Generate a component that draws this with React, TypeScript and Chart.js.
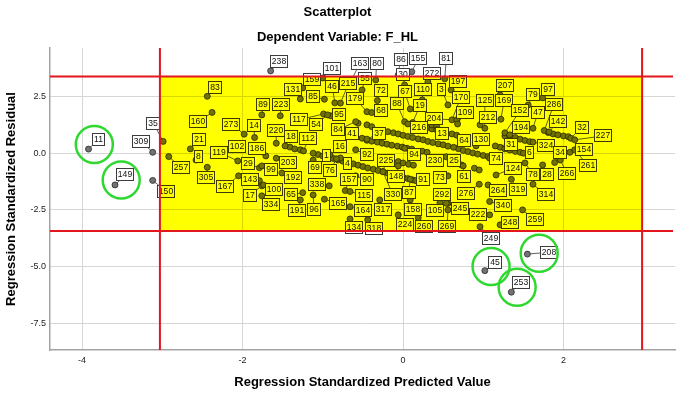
import React, { useEffect, useRef } from 'react';
import { Chart, registerables } from 'chart.js';

Chart.register(...registerables);

// Labelled cases (case number, predicted value, residual) and where each case label sits
const caseIds = [
  11, 149, 309, 35, 150, 83, 160, 273, 21, 8, 257, 119, 305, 167, 102, 14, 186, 29, 143, 17,
  89, 223, 220, 99, 238, 101, 163, 80, 86, 155, 81, 30, 272, 159, 55, 197, 131, 46, 215, 72,
  67, 110, 3, 85, 179, 88, 19, 170, 95, 68, 204, 117, 54, 216, 84, 41, 37, 13, 18, 112,
  16, 1, 92, 94, 230, 25, 203, 4, 225, 69, 76, 192, 148, 91, 73, 338, 157, 90, 100, 65,
  115, 330, 87, 292, 165, 334, 191, 96, 164, 317, 158, 105, 134, 318, 224, 260, 269, 245, 207, 79,
  97, 125, 169, 286, 152, 47, 109, 212, 142, 194, 32, 227, 64, 130, 31, 324, 154, 6, 34, 74,
  261, 124, 78, 28, 266, 61, 264, 319, 314, 276, 340, 222, 259, 248, 249, 45, 208, 253,
];
const predictedValues = [
  -3.92, -3.59, -3.12, -2.99, -3.12, -2.44, -2.38, -1.98, -2.65, -2.58, -2.92, -2.06, -2.44, -2.05, -2.12, -1.85, -1.71, -1.79, -1.79, -1.76,
  -1.76, -1.53, -1.58, -1.76, -1.65, -1.0, -0.64, -0.34, -0.06, 0.11, 0.52, 0.02, 0.31, -1.25, -0.51, 0.6, -1.28, -0.85, -0.78, -0.32,
  0.09, 0.24, 0.56, -0.98, -0.45, 0.02, 0.12, 0.61, -0.9, -0.39, 0.67, -0.99, -0.94, 0.06, -0.59, -0.51, -0.45, 0.42, -1.47, -1.24,
  -0.91, -1.12, -0.59, 0.02, 0.36, 0.54, -1.58, -0.78, -0.25, -1.12, -0.83, -1.51, -0.06, 0.16, 0.56, -0.92, -0.72, -0.59, -1.74, -1.25,
  -0.66, -0.25, 0.09, 0.56, -0.98, -1.76, -1.28, -1.12, -0.66, -0.29, 0.09, 0.46, -0.66, -0.44, -0.06, 0.19, 0.56, 0.54, 1.21, 1.56,
  1.74, 1.02, 1.22, 1.76, 1.27, 1.62, 0.68, 0.96, 1.82, 1.33, 2.09, 2.14, 0.63, 0.91, 1.15, 1.62, 2.08, 1.5, 1.89, 1.08,
  2.14, 1.16, 1.52, 1.74, 1.96, 0.75, 1.06, 1.35, 1.62, 0.95, 1.08, 1.08, 1.49, 1.21, 0.96, 1.02, 1.55, 1.35,
];
const residualValues = [
  0.18, -1.4, 0.04, 0.52, -1.2, 2.51, 1.8, 0.84, 0.19, -0.3, -0.15, -0.34, -0.62, -1.0, 0.15, 0.69, -0.12, -0.64, -1.21, -1.44,
  1.69, 1.65, 0.44, -0.56, 3.63, 3.32, 3.23, 3.23, 3.45, 3.59, 3.28, 3.01, 3.14, 2.88, 2.79, 2.79, 2.39, 2.22, 2.21, 2.32,
  1.95, 2.35, 2.13, 2.38, 1.83, 1.39, 1.35, 1.47, 1.65, 1.79, 1.47, 1.73, 1.69, 1.29, 1.39, 0.66, 0.62, 1.03, 0.32, 0.1,
  -0.07, 0.0, 0.15, 0.22, -0.34, -0.16, -0.22, -0.21, -0.81, -0.3, -0.25, -0.87, -0.56, -1.21, -1.0, -1.44, -1.65, -1.0, -1.4, -1.74,
  -1.69, -0.82, -1.15, -2.21, -2.03, -1.88, -2.06, -1.84, -2.36, -2.06, -2.06, -2.19, -2.9, -2.94, -2.72, -2.85, -2.5, -2.21, 2.57, 2.13,
  2.44, 1.1, 1.5, 1.0, 0.9, 1.1, 1.29, 1.25, 0.94, 0.81, 0.66, 0.59, 0.26, 0.32, 0.32, 0.49, 0.04, 0.0, -0.41, -0.22,
  0.15, -0.96, -0.43, -0.52, -0.3, -0.56, -1.4, -1.15, -1.37, -1.37, -2.13, -2.72, -2.5, -3.16, -3.24, -5.18, -4.45, -6.13,
];
const labelPredicted = [
  -3.8, -3.46, -3.26, -3.11, -2.95, -2.34, -2.55, -2.14, -2.54, -2.55, -2.77, -2.29, -2.45, -2.22, -2.07, -1.86, -1.82, -1.93, -1.91, -1.91,
  -1.74, -1.52, -1.58, -1.65, -1.54, -0.89, -0.54, -0.33, -0.03, 0.19, 0.54, 0.0, 0.36, -1.14, -0.47, 0.68, -1.37, -0.88, -0.68, -0.28,
  0.02, 0.25, 0.48, -1.12, -0.6, -0.08, 0.21, 0.72, -0.8, -0.27, 0.39, -1.3, -1.09, 0.2, -0.81, -0.63, -0.3, 0.48, -1.39, -1.18,
  -0.78, -0.95, -0.45, 0.14, 0.4, 0.63, -1.43, -0.69, -0.21, -1.1, -0.91, -1.37, -0.09, 0.25, 0.46, -1.07, -0.67, -0.45, -1.61, -1.39,
  -0.49, -0.13, 0.07, 0.48, -0.81, -1.64, -1.32, -1.11, -0.5, -0.25, 0.12, 0.4, -0.61, -0.36, 0.02, 0.26, 0.55, 0.71, 1.27, 1.62,
  1.81, 1.02, 1.26, 1.88, 1.46, 1.68, 0.77, 1.06, 1.93, 1.47, 2.23, 2.49, 0.76, 0.97, 1.34, 1.78, 2.25, 1.58, 1.96, 1.16,
  2.31, 1.37, 1.62, 1.8, 2.04, 0.76, 1.18, 1.43, 1.78, 0.79, 1.24, 0.94, 1.64, 1.33, 1.1, 1.15, 1.82, 1.47,
];
const labelResidual = [
  0.59, -0.96, 0.51, 1.32, -1.69, 2.89, 1.38, 1.28, 0.59, -0.15, -0.62, 0.04, -1.08, -1.47, 0.3, 1.24, 0.22, -0.47, -1.16, -1.86,
  2.13, 2.13, 1.0, -0.71, 4.04, 3.72, 3.97, 3.94, 4.15, 4.19, 4.16, 3.48, 3.5, 3.23, 3.28, 3.16, 2.79, 2.94, 3.06, 2.76,
  2.72, 2.79, 2.82, 2.5, 2.43, 2.21, 2.09, 2.45, 1.69, 1.87, 1.51, 1.47, 1.25, 1.13, 1.03, 0.85, 0.88, 0.85, 0.73, 0.63,
  0.29, -0.09, -0.07, -0.07, -0.3, -0.3, -0.4, -0.44, -0.33, -0.64, -0.78, -1.08, -1.03, -1.15, -1.08, -1.37, -1.18, -1.18, -1.62, -1.84,
  -1.87, -1.8, -1.74, -1.8, -2.21, -2.28, -2.54, -2.5, -2.54, -2.5, -2.47, -2.53, -3.28, -3.34, -3.13, -3.24, -3.24, -2.43, 2.98, 2.57,
  2.82, 2.32, 2.31, 2.13, 1.87, 1.79, 1.79, 1.57, 1.39, 1.15, 1.15, 0.76, 0.56, 0.59, 0.37, 0.34, 0.18, 0.03, 0.04, -0.25,
  -0.56, -0.66, -0.93, -0.93, -0.88, -1.03, -1.65, -1.62, -1.84, -1.76, -2.31, -2.72, -2.94, -3.04, -3.75, -4.81, -4.37, -5.69,
];

// Cases whose labels are hidden under other labels (only the dot shows)
const unlabeledPredicted = [
  -0.19, -0.12, -0.06, 0.0, 0.06, 0.12, 0.19, 0.25, 0.31, 0.37, 0.44, 0.5, 0.56, 0.69, 0.75, 0.81, 0.87, 0.93, 1.0, 1.06,
  -0.45, -0.39, -0.32, -0.26, -0.2, -0.14, -0.07, -0.01, 0.05, 0.11, 0.24, 0.3,
  -1.06, -1.0, -0.93, -0.87, -0.81, -0.75, -0.68, -0.62, -0.56, -0.5, -0.44, -0.37, -0.31, -0.19, -0.12, -0.06, 0.0, 0.06, 0.12, 0.19,
  -0.06, 0.0, 0.07, 0.13,
  1.27, 1.33, 1.4, 1.46, 1.52, 1.58,
  1.81, 1.87, 1.93, 2.0, 2.06,
  1.21, 1.27, 1.33, 1.4, 1.46,
  0.3, 0.36, 0.48, 0.54, 0.61, 0.67,
  -1.41, -1.35, -1.28,
  -0.56, -0.45, -0.39, 0.36, 0.42, 0.89, 0.95, 0.73,
];
const unlabeledResidual = [
  0.95, 0.9, 0.85, 0.79, 0.74, 0.69, 0.63, 0.59, 0.52, 0.47, 0.41, 0.37, 0.31, 0.2, 0.12, 0.07, 0.01, -0.04, -0.1, -0.15,
  0.57, 0.53, 0.49, 0.44, 0.4, 0.35, 0.31, 0.27, 0.22, 0.18, 0.09, 0.04,
  -0.06, -0.12, -0.18, -0.23, -0.3, -0.35, -0.41, -0.47, -0.53, -0.59, -0.65, -0.71, -0.76, -0.88, -0.94, -1.0, -1.06, -1.12, -1.18, -1.24,
  -0.37, -0.43, -0.49, -0.53,
  0.76, 0.73, 0.69, 0.62, 0.56, 0.51,
  0.91, 0.85, 0.81, 0.76, 0.73,
  0.26, 0.19, 0.14, 0.08, 0.04,
  1.12, 1.07, 0.97, 0.91, 0.85, 0.79,
  0.27, 0.19, 0.15,
  1.32, 1.25, 1.17, 1.25, 1.17, -0.66, -0.74, -0.52,
];

const xTicks = [-4, -2, 0, 2];
const yTicks = [2.5, 0, -2.5, -5, -7.5];
const xRange = [-4.4, 3.39];
const yRange = [-8.68, 4.64];
// cut-off lines drawn in red, band between them filled yellow
const cutPredicted = [-3.03, 2.98];
const cutResidual = [-3.43, 3.38];
// cases circled in green
const circledCases = [11, 149, 45, 208, 253];

const FONT = '"Liberation Sans", Arial, Helvetica, sans-serif';

const annotatePlugin = {
  id: 'annotate',
  beforeDatasetsDraw(chart: any) {
    const { ctx, scales } = chart;
    const x = scales.x;
    const y = scales.y;
    ctx.save();
    ctx.strokeStyle = '#3a3a3a';
    ctx.lineWidth = 0.8;
    caseIds.forEach((_id, i) => {
      const px = x.getPixelForValue(predictedValues[i]);
      const py = y.getPixelForValue(residualValues[i]);
      const lx = x.getPixelForValue(labelPredicted[i]);
      const ly = y.getPixelForValue(labelResidual[i]);
      if (Math.hypot(lx - px, ly - py) > 9) {
        ctx.beginPath();
        ctx.moveTo(px, py);
        ctx.lineTo(lx, ly);
        ctx.stroke();
      }
    });
    ctx.restore();
  },
  afterDatasetsDraw(chart: any) {
    const { ctx, scales, chartArea } = chart;
    const x = scales.x;
    const y = scales.y;
    ctx.save();
    // case labels
    ctx.font = `8.6px ${FONT}`;
    ctx.textAlign = 'center';
    ctx.textBaseline = 'middle';
    caseIds.forEach((id, i) => {
      const lx = x.getPixelForValue(labelPredicted[i]);
      const ly = y.getPixelForValue(labelResidual[i]);
      const t = String(id);
      const w = Math.round(ctx.measureText(t).width + 4);
      const h = 13;
      const bx = Math.round(lx - w / 2);
      const by = Math.round(ly - h / 2);
      ctx.fillStyle = '#ffffff';
      ctx.fillRect(bx, by, w, h);
      ctx.strokeStyle = '#3c3c3c';
      ctx.lineWidth = 1;
      ctx.strokeRect(bx + 0.5, by + 0.5, w - 1, h - 1);
      ctx.fillStyle = '#111111';
      ctx.fillText(t, bx + w / 2, by + h / 2 + 0.5);
    });
    // yellow band (multiplied over everything below it)
    const x0 = x.getPixelForValue(cutPredicted[0]);
    const x1 = x.getPixelForValue(cutPredicted[1]);
    const y0 = y.getPixelForValue(cutResidual[1]);
    const y1 = y.getPixelForValue(cutResidual[0]);
    ctx.globalCompositeOperation = 'multiply';
    ctx.fillStyle = '#ffff00';
    ctx.fillRect(x0, y0, x1 - x0, y1 - y0);
    ctx.globalCompositeOperation = 'source-over';
    // red cut-off lines
    ctx.strokeStyle = '#e3161e';
    ctx.lineWidth = 2;
    ctx.beginPath();
    cutPredicted.forEach((v) => {
      const px = x.getPixelForValue(v);
      ctx.moveTo(px, chartArea.top);
      ctx.lineTo(px, chartArea.bottom);
    });
    cutResidual.forEach((v) => {
      const py = y.getPixelForValue(v);
      ctx.moveTo(chartArea.left, py);
      ctx.lineTo(chartArea.right - 2, py);
    });
    ctx.stroke();
    // green circles around outliers
    ctx.strokeStyle = '#2fd82f';
    ctx.lineWidth = 2.5;
    circledCases.forEach((id) => {
      const i = caseIds.indexOf(id);
      if (i < 0) return;
      const px = x.getPixelForValue(predictedValues[i]);
      const py = y.getPixelForValue(residualValues[i]);
      const lx = x.getPixelForValue(labelPredicted[i]);
      const ly = y.getPixelForValue(labelResidual[i]);
      ctx.beginPath();
      ctx.arc((px + lx) / 2 + 1, (py + ly) / 2, 18.5, 0, Math.PI * 2);
      ctx.stroke();
    });
    ctx.restore();
  },
};

export default function App() {
  const canvasRef = useRef<HTMLCanvasElement | null>(null);

  useEffect(() => {
    const canvas = canvasRef.current;
    if (!canvas) return;
    const pointStyle = {
      pointRadius: 3,
      pointHoverRadius: 3,
      backgroundColor: '#727272',
      borderColor: '#2a2a2a',
      borderWidth: 0.8,
    };
    const chart = new Chart(canvas, {
      type: 'scatter',
      data: {
        datasets: [
          {
            label: 'Labelled cases',
            data: caseIds.map((_id, i) => ({ x: predictedValues[i], y: residualValues[i] })),
            ...pointStyle,
          },
          {
            label: 'Other cases',
            data: unlabeledPredicted.map((v, i) => ({ x: v, y: unlabeledResidual[i] })),
            ...pointStyle,
          },
        ],
      },
      options: {
        animation: false,
        responsive: false,
        devicePixelRatio: 1,
        layout: { padding: { top: 0, right: 7, left: 0, bottom: 0 } },
        plugins: {
          legend: { display: false },
          tooltip: { enabled: false },
          title: {
            display: true,
            text: 'Scatterplot',
            color: '#000',
            font: { family: FONT, size: 13, weight: 'bold' },
            padding: { top: 5, bottom: 4 },
          },
          subtitle: {
            display: true,
            text: 'Dependent Variable: F_HL',
            color: '#000',
            font: { family: FONT, size: 13, weight: 'bold' },
            padding: { top: 4.6, bottom: 3.2 },
          },
        },
        scales: {
          x: {
            type: 'linear',
            min: xRange[0],
            max: xRange[1],
            afterBuildTicks: (s: any) => {
              s.ticks = xTicks.map((v) => ({ value: v }));
            },
            afterFit: (s: any) => {
              s.height = 45;
            },
            ticks: {
              color: '#222',
              font: { family: FONT, size: 9 },
              padding: 5,
              callback: (v: any) => String(v),
            },
            grid: { color: '#d6d6d6', lineWidth: 1, drawTicks: false },
            border: { display: true, color: '#a3a3a3', width: 1.5 },
            title: {
              display: true,
              text: 'Regression Standardized Predicted Value',
              color: '#000',
              font: { family: FONT, size: 13, weight: 'bold' },
              padding: { top: 0, bottom: 5 },
            },
          },
          y: {
            type: 'linear',
            min: yRange[0],
            max: yRange[1],
            afterBuildTicks: (s: any) => {
              s.ticks = yTicks.map((v) => ({ value: v }));
            },
            afterFit: (s: any) => {
              s.width = 50;
            },
            ticks: {
              color: '#222',
              font: { family: FONT, size: 9 },
              padding: 4,
              callback: (v: any) => Number(v).toFixed(1),
            },
            grid: { color: '#d6d6d6', lineWidth: 1, drawTicks: false },
            border: { display: true, color: '#a3a3a3', width: 1.5 },
            title: {
              display: true,
              text: 'Regression Standardized Residual',
              color: '#000',
              font: { family: FONT, size: 13, weight: 'bold' },
              padding: { top: 4, bottom: 0 },
            },
          },
        },
      },
      plugins: [annotatePlugin],
    } as any);
    return () => chart.destroy();
  }, []);

  return (
    <div style={{ position: 'absolute', left: 0, top: 0, width: 682, height: 395, background: '#fff' }}>
      <canvas ref={canvasRef} width={682} height={395} style={{ display: 'block' }} />
    </div>
  );
}
